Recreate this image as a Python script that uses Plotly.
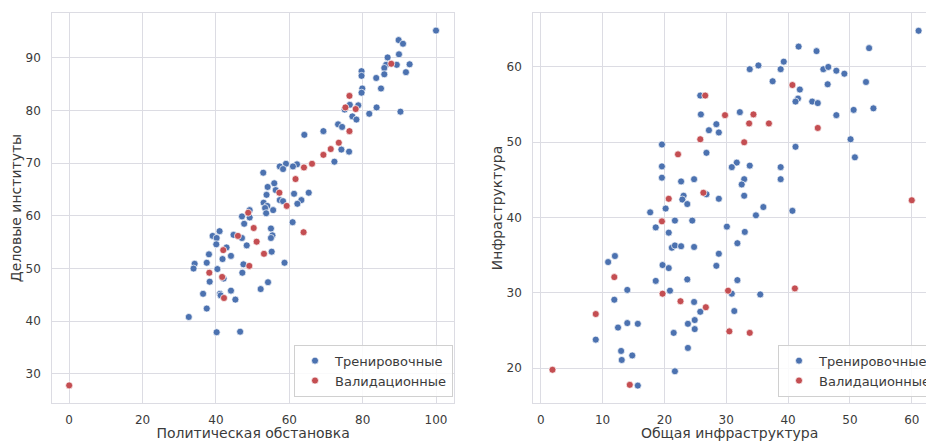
import plotly.graph_objects as go

# ---------------- data ----------------
# Left panel: "Политическая обстановка" (x) vs "Деловые институты" (y)
train_political = [100.0, 89.8, 91.0, 89.9, 86.8, 89.3, 92.8, 86.4, 85.9, 91.8, 79.7, 79.7, 83.7, 85.9,
                   79.9, 79.7, 85.0, 83.8, 81.8, 90.3, 76.5, 75.1, 78.8, 77.2, 78.3, 73.3, 74.4, 69.3,
                   64.1, 74.2, 76.3, 72.3, 62.1, 61.0, 59.1, 57.4, 58.3, 52.9, 65.3, 61.3, 63.3, 62.2,
                   55.9, 54.1, 56.3, 53.8, 57.4, 58.3, 53.0, 54.0, 53.4, 55.6, 53.7, 60.9, 49.2, 47.1,
                   49.2, 47.7, 55.0, 55.4, 55.0, 48.4, 44.8, 47.1, 55.2, 58.7, 47.5, 47.2, 54.2, 52.2,
                   41.0, 39.1, 40.2, 40.1, 42.9, 44.1, 41.8, 38.1, 34.2, 33.9, 37.5, 40.4, 38.3, 42.1,
                   36.5, 41.1, 41.3, 44.1, 45.3, 37.5, 32.6, 40.2, 46.6]
train_business = [95.2, 93.4, 92.7, 90.7, 90.1, 88.7, 88.8, 88.7, 88.1, 87.3, 87.5, 86.6, 86.2, 86.9,
                  84.2, 83.4, 84.2, 80.6, 79.4, 79.8, 81.1, 80.2, 81.0, 78.9, 78.3, 77.4, 76.9, 76.1,
                  75.4, 72.6, 72.2, 70.3, 69.8, 69.4, 69.9, 69.4, 68.9, 68.2, 64.4, 64.2, 63.0, 62.3,
                  66.2, 65.5, 64.9, 64.0, 63.0, 62.8, 62.5, 61.9, 61.5, 61.1, 60.5, 58.8, 61.1, 59.9,
                  59.7, 58.5, 57.6, 56.3, 55.8, 54.4, 56.4, 55.8, 53.2, 51.1, 50.8, 49.2, 47.4, 46.1,
                  57.1, 56.2, 55.8, 54.6, 54.0, 52.4, 51.8, 52.7, 50.9, 50.0, 51.1, 49.9, 47.5, 48.1,
                  45.2, 45.2, 44.9, 45.8, 44.1, 42.4, 40.8, 37.9, 38.0]
val_political = [87.8, 76.4, 75.3, 78.1, 76.4, 73.5, 71.3, 69.3, 66.2, 64.0, 61.7, 57.3, 59.3, 48.8,
                 50.3, 46.0, 51.1, 53.1, 49.1, 63.9, 42.0, 38.2, 41.7, 42.2, 0.0]
val_business = [88.9, 82.8, 80.6, 80.3, 76.1, 73.9, 72.7, 71.6, 69.9, 69.2, 67.0, 64.4, 61.9, 60.6,
                57.7, 56.2, 55.1, 52.8, 50.5, 56.9, 53.5, 49.2, 48.4, 44.4, 27.8]

# Right panel: "Общая инфраструктура" (x) vs "Инфраструктура" (y)
train_general_infra = [61.1, 41.7, 44.6, 53.1, 39.3, 38.8, 35.2, 33.8, 37.5, 45.7, 46.5, 47.8, 49.1, 46.4,
                       52.6, 41.9, 41.6, 41.2, 43.9, 44.8, 50.6, 53.8, 47.8, 41.2, 50.1, 50.8, 25.8, 25.9,
                       32.2, 28.4, 27.2, 28.8, 19.6, 26.8, 31.7, 30.9, 33.8, 38.8, 38.8, 19.6, 19.6, 22.7,
                       24.8, 32.9, 32.5, 32.9, 23.1, 22.9, 23.7, 26.8, 28.8, 20.2, 17.7, 34.8, 36.0, 40.7,
                       18.6, 21.7, 24.5, 20.7, 21.2, 21.7, 22.7, 24.8, 19.7, 20.7, 28.4, 28.8, 30.1, 33.0,
                       31.8, 12.0, 10.9, 18.6, 23.7, 31.8, 20.9, 14.0, 11.9, 30.9, 35.5, 24.8, 25.8, 31.3,
                       24.9, 24.9, 23.8, 14.0, 15.7, 12.5, 21.5, 8.9, 13.0, 14.8, 13.1, 23.8, 21.7, 15.7]
train_infra = [64.8, 62.7, 62.1, 62.5, 60.7, 59.7, 60.2, 59.7, 58.1, 59.7, 60.0, 59.5, 59.1, 57.7,
               58.0, 57.0, 55.8, 55.4, 55.4, 55.2, 54.3, 54.5, 53.6, 49.4, 50.4, 48.0, 56.2, 53.7,
               54.0, 52.4, 51.6, 51.3, 49.7, 48.6, 47.3, 46.7, 46.9, 46.7, 45.1, 46.8, 45.3, 44.8,
               45.1, 45.1, 44.4, 42.9, 42.9, 42.4, 41.8, 43.1, 42.5, 41.2, 40.7, 40.3, 41.4, 40.9,
               38.7, 39.6, 39.6, 38.0, 36.0, 36.3, 36.2, 36.1, 33.7, 33.3, 33.6, 35.2, 38.8, 38.1,
               36.6, 34.9, 34.1, 31.6, 31.8, 31.7, 30.3, 30.4, 29.1, 29.9, 29.8, 28.8, 27.5, 27.6,
               26.4, 25.2, 25.9, 26.0, 25.9, 25.4, 24.7, 23.8, 22.3, 21.7, 21.1, 22.7, 19.6, 17.7]
val_general_infra = [26.6, 40.7, 29.8, 34.4, 33.7, 36.9, 25.8, 32.9, 44.8, 22.2, 26.3, 20.7, 60.0,
                     19.6, 11.9, 19.7, 8.9, 22.6, 26.7, 30.3, 41.1, 30.5, 33.8, 1.9, 14.4]
val_infra = [56.2, 57.6, 53.6, 53.7, 52.5, 52.5, 50.4, 50.0, 51.9, 48.4, 43.3, 42.5, 42.3,
             39.5, 32.1, 29.9, 27.2, 28.9, 28.1, 30.3, 30.6, 24.9, 24.7, 19.8, 17.8]

series_names = ["Тренировочные", "Валидационные"]
x_titles = ["Политическая обстановка", "Общая инфраструктура"]
y_titles = ["Деловые институты", "Инфраструктура"]
left_xticks = [0, 20, 40, 60, 80, 100]
left_yticks = [30, 40, 50, 60, 70, 80, 90]
right_xticks = [0, 10, 20, 30, 40, 50, 60]
right_yticks = [20, 30, 40, 50, 60]

# ---------------- style ----------------
BLUE = "#4C72B0"
RED = "#C44E52"
GRID = "#dcdce3"
TEXT = "#3b3b3b"
FONT = "DejaVu Sans"
W, H = 926, 441

def mk(x, y, name, color, xa, ya, legend):
    return go.Scatter(x=x, y=y, mode="markers", name=name, xaxis=xa, yaxis=ya, legend=legend,
                      marker=dict(color=color, size=7, line=dict(color="white", width=0.7)),
                      hoverinfo="x+y+name")

fig = go.Figure()
fig.add_trace(mk(train_political, train_business, series_names[0], BLUE, "x", "y", "legend"))
fig.add_trace(mk(val_political, val_business, series_names[1], RED, "x", "y", "legend"))
fig.add_trace(mk(train_general_infra, train_infra, series_names[0], BLUE, "x2", "y2", "legend2"))
fig.add_trace(mk(val_general_infra, val_infra, series_names[1], RED, "x2", "y2", "legend2"))

ydom = [1 - 403.3 / H, 1 - 12.7 / H]

def axis_common(**kw):
    d = dict(showgrid=True, gridcolor=GRID, gridwidth=1, zeroline=False,
             showline=True, linecolor=GRID, linewidth=1, ticks="",
             tickfont=dict(family=FONT, size=12, color=TEXT),
             automargin=False)
    d.update(kw)
    return d

fig.update_layout(
    width=W, height=H,
    margin=dict(l=0, r=0, t=0, b=0, autoexpand=False),
    plot_bgcolor="white", paper_bgcolor="white",
    font=dict(family=FONT, color=TEXT),
    xaxis=axis_common(domain=[52.3 / W, 454 / W], range=[-4.6, 104.9], tickvals=left_xticks,
                      anchor="y", mirror=True, ticklabelstandoff=5,
                      title=dict(text=x_titles[0], font=dict(size=14, family=FONT, color=TEXT), standoff=8)),
    yaxis=axis_common(domain=ydom, range=[24.4, 98.6], tickvals=left_yticks,
                      anchor="x", mirror=True, ticklabelstandoff=8,
                      title=dict(text=y_titles[0], font=dict(size=14, family=FONT, color=TEXT), standoff=0)),
    xaxis2=axis_common(domain=[533.3 / W, 1.0], range=[-1.2, 62.3], tickvals=right_xticks,
                       anchor="y2", mirror=True, ticklabelstandoff=5,
                       title=dict(text=x_titles[1], font=dict(size=14, family=FONT, color=TEXT), standoff=8)),
    yaxis2=axis_common(domain=ydom, range=[15.35, 67.2], tickvals=right_yticks,
                       anchor="x2", mirror=False, ticklabelstandoff=8,
                       title=dict(text=y_titles[1], font=dict(size=14, family=FONT, color=TEXT), standoff=0)),
    legend=dict(x=453 / W, xanchor="right", y=1 - 396.7 / H, yanchor="bottom",
                bgcolor="rgba(255,255,255,0.85)", bordercolor="#d0d0d0", borderwidth=1,
                font=dict(family=FONT, size=13, color=TEXT), tracegroupgap=0),
    legend2=dict(x=778 / W, xanchor="left", y=1 - 396.7 / H, yanchor="bottom",
                 bgcolor="rgba(255,255,255,0.85)", bordercolor="#d0d0d0", borderwidth=1,
                 font=dict(family=FONT, size=13, color=TEXT), tracegroupgap=0),
    showlegend=True,
)

# remove the browser's default 8px body margin so the figure sits at the window origin
fig.write_html("out.html", config={"displayModeBar": False},
               post_script="document.body.style.margin='0';document.body.style.overflow='hidden';")
